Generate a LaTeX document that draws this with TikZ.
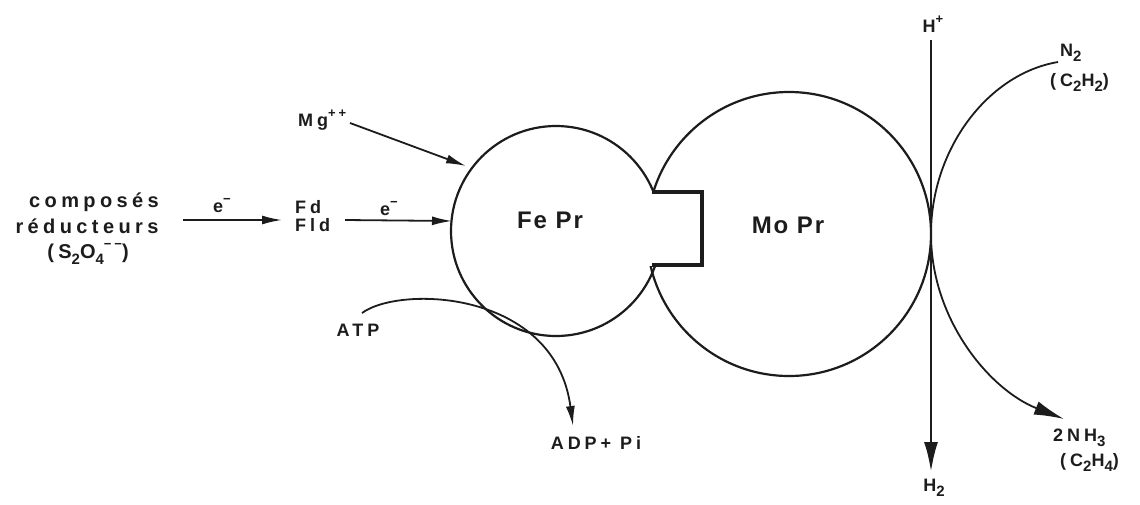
\documentclass[tikz,border=0pt]{standalone}
\usepackage{fontspec}
\setmainfont{Liberation Sans}
\newfontfamily\spaced{Liberation Sans Bold}[LetterSpace=22]
\newfontfamily\lessspaced{Liberation Sans Bold}[LetterSpace=8]
\usetikzlibrary{arrows.meta}
\definecolor{ink}{HTML}{1C1C1C}
% chemical indices set as lowered / raised smaller digits and signs
\newcommand\lowidx[1]{\raisebox{-0.3em}{\fontsize{15}{15}\selectfont #1}}
\newcommand\highidx[1]{\raisebox{0.48em}{\fontsize{13}{13}\selectfont #1}}

\begin{document}
\begin{tikzpicture}[x=1pt,y=-1pt,
  lbl/.style={inner sep=0pt, anchor=base, text=ink,
              font=\spaced\fontsize{18}{18}\selectfont},
  bodylbl/.style={inner sep=0pt, anchor=base, text=ink,
              font=\lessspaced\fontsize{24}{24}\selectfont},
  shell/.style={draw=ink, line width=2.2pt},
  clamp/.style={draw=ink, line width=4.5pt, line join=miter},
  wire/.style={draw=ink, line width=1.8pt, -{Latex[length=20pt,width=9pt]}},
  bigwire/.style={draw=ink, line width=2.2pt, -{Latex[length=30pt,width=14pt]}},
]
\path[use as bounding box, fill=white] (0,0) rectangle (1140,504);

% --- the two proteins -------------------------------------------------
\coordinate (fec) at (556,231);
\coordinate (moc) at (789,234);
\begin{scope}
  % keep the outlines out of the joint between the two proteins
  \clip (0,0) -- (1140,0) -- (1140,504) -- (0,504) -- cycle
        (640,192) -- (640,266) -- (705,266) -- (705,192) -- cycle;
  \draw[shell] (fec) circle[radius=105pt];
  \draw[shell] (moc) circle[radius=142pt];
\end{scope}
\draw[clamp] (652,192) -- (702,192) -- (702,265) -- (652,265);

\node[bodylbl] (fe) at (550,228) {Fe Pr};
\node[bodylbl] (mo) at (788,233) {Mo Pr};

% --- electron donors ---------------------------------------------------
\node[lbl, font=\spaced\fontsize{20}{20}\selectfont] (red1) at (94,207) {composés};
\node[lbl, font=\spaced\fontsize{20}{20}\selectfont] (red2) at (87,233) {réducteurs};
\node[lbl, font=\spaced\fontsize{20}{20}\selectfont] (red3) at (88,258)
  {(S\lowidx{2}O\lowidx{4}\highidx{−−})};

\node[lbl, anchor=base west] (fd)  at (295,213) {Fd};
\node[lbl, anchor=base west] (fld) at (295,231) {Fld};

\coordinate (redout) at (183,220);
\coordinate (fdin)   at (282,220);
\draw[wire] (redout) -- (fdin);
\node[lbl] (e1) at (222,212) {e\highidx{−}};

\coordinate (fldout) at (345,220);
\coordinate (feein)  at (452,221);
\draw[wire] (fldout) -- (feein);
\node[lbl] (e2) at (389,215) {e\highidx{−}};

% --- magnesium ---------------------------------------------------------
\node[lbl, anchor=base west] (mg) at (298,126) {Mg\highidx{++}};
\coordinate (mgout) at (350,123);
\coordinate (femg)  at (466,166);
\draw[wire] (mgout) -- (femg);

% --- ATP hydrolysis ----------------------------------------------------
\node[lbl] (atp) at (358,336) {ATP};
\node[lbl] (adp) at (596,449) {ADP+ Pi};
\coordinate (atpout) at (362,313);
\coordinate (adpin)  at (573,426);
\draw[wire] (atpout) .. controls (400,285) and (555,290) .. (adpin);

% --- proton reduction --------------------------------------------------
\node[lbl] (hp) at (933,32) {H\highidx{+}};
\node[lbl] (h2) at (934,491) {H\lowidx{2}};
\coordinate (hin)  at (931,40);
\coordinate (hout) at (931,472);
\draw[bigwire, line width=2.8pt] (hin) -- (hout);

% --- substrate reduction -----------------------------------------------
\node[lbl, anchor=base west] (n2) at (1060,56) {N\lowidx{2}};
\node[lbl, anchor=base west] (c2h2) at (1050,86) {(C\lowidx{2}H\lowidx{2})};
\node[lbl, anchor=base west] (nh3) at (1053,441) {2NH\lowidx{3}};
\node[lbl, anchor=base west] (c2h4) at (1060,466) {(C\lowidx{2}H\lowidx{4})};
\coordinate (n2out) at (1058,62);
\coordinate (site)  at (931,234);
\coordinate (nh3in) at (1064,419);
\draw[bigwire, line width=1.8pt] (n2out) .. controls (987,74) and (931,150) .. (site)
      .. controls (931,320) and (990,390) .. (nh3in);
\end{tikzpicture}
\end{document}
